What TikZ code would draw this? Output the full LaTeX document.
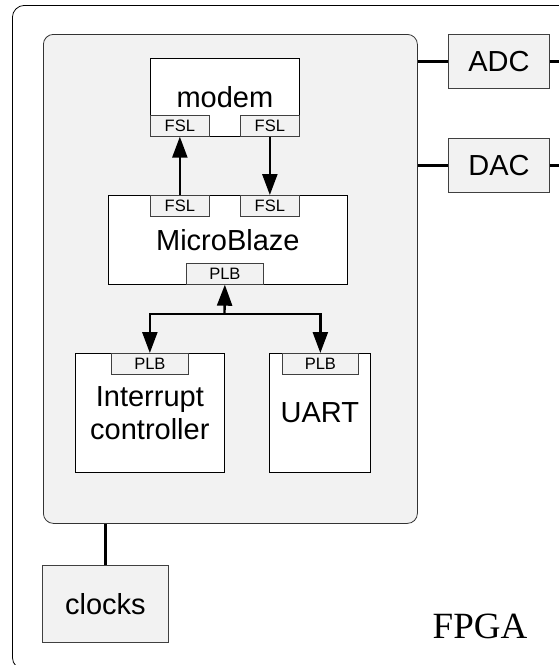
\documentclass[tikz,border=0pt]{standalone}
\usepackage{fontspec}
\setmainfont{Liberation Serif}
\setsansfont{Liberation Sans}
\usetikzlibrary{arrows.meta}

\begin{document}
\begin{tikzpicture}[x=1pt, y=-1pt,
    frame/.style={draw, line width=0.8pt, rounded corners=12pt, inner sep=0pt, anchor=north west},
    board/.style={draw=black!80, fill=black!5, line width=0.8pt, rounded corners=10pt, inner sep=0pt, anchor=north west},
    block/.style={draw, fill=white, line width=0.7pt, inner sep=0pt, anchor=north west, align=center, font=\sffamily\fontsize{29}{33}\selectfont},
    port/.style={draw=black!75, fill=black!5, line width=0.7pt, inner sep=0pt, anchor=north west, minimum width=59pt, minimum height=21pt, font=\sffamily\fontsize{16.5}{18}\selectfont},
    ext/.style={draw=black!75, fill=black!5, line width=0.9pt, inner sep=0pt, anchor=north west, font=\sffamily\fontsize{29}{33}\selectfont},
    wire/.style={line width=2.4pt},
    bus/.style={line width=2.4pt, -{Triangle[width=15pt,length=21pt]}}]
\clip (0,0) rectangle (559,665);
\node[frame, minimum width=570pt, minimum height=664pt] (fpga) at (12,5) {};
\node[board, minimum width=374pt, minimum height=489pt] (board) at (43,34) {};
% processor and peripherals
\node[block, minimum width=149pt, minimum height=78pt] (modem) at (150,58) {modem};
\node[block, minimum width=239pt, minimum height=89pt] (mb) at (108,195) {MicroBlaze};
\node[block, minimum width=149pt, minimum height=119pt] (intc) at (75,353) {Interrupt\\controller};
\node[block, minimum width=101pt, minimum height=119pt] (uart) at (269,353) {UART};
% bus ports
\node[port] (modfsla) at (150,115) {FSL};
\node[port] (modfslb) at (240,115) {FSL};
\node[port] (mbfsla) at (150,195) {FSL};
\node[port] (mbfslb) at (240,195) {FSL};
\node[port, minimum width=77pt] (mbplb) at (186,263) {PLB};
\node[port, minimum width=77pt] (intplb) at (111,353) {PLB};
\node[port, minimum width=76pt] (uartplb) at (282,353) {PLB};
% off-chip parts
\node[ext, minimum width=101pt, minimum height=54pt] (adc) at (448,34) {ADC};
\node[ext, minimum width=101pt, minimum height=54pt] (dac) at (448,138) {DAC};
\node[ext, minimum width=126pt, minimum height=77pt] (clocks) at (42,565) {clocks};
\node[anchor=base, font=\fontsize{37}{40}\selectfont] (fpgalabel) at (480,638) {FPGA};
% connections
\draw[bus] (mbfsla.north) -- (modfsla.south);
\draw[bus] (modfslb.south) -- (mbfslb.north);
\coordinate (split) at (224.5,314);
\draw[bus] (split) -- (mbplb.south);
\draw[bus] (split) -| (intplb.north);
\draw[bus] (split) -| (uartplb.north);
\draw[wire] (adc.west) -- (adc.west -| board.east);
\draw[wire] (adc.east) -- (adc.east -| fpga.east);
\draw[wire] (dac.west) -- (dac.west -| board.east);
\draw[wire] (dac.east) -- (dac.east -| fpga.east);
\draw[wire] (clocks.north) -- (clocks.north |- board.south);
\end{tikzpicture}
\end{document}
